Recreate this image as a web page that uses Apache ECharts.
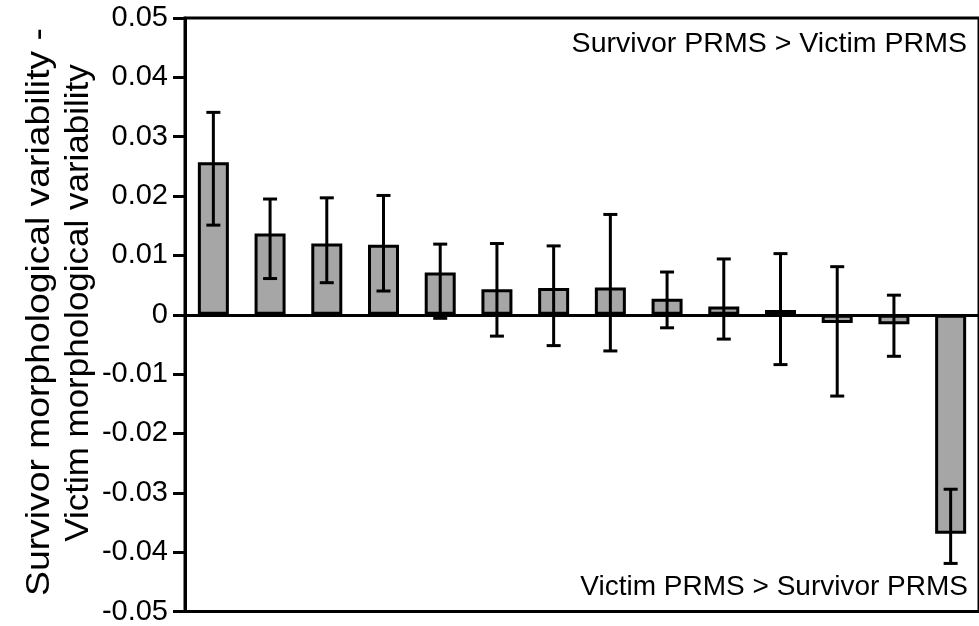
<!DOCTYPE html>
<html>
<head>
<meta charset="utf-8">
<script src="https://cdn.jsdelivr.net/npm/echarts@6/dist/echarts.min.js"></script>
<style>
html,body{margin:0;padding:0;background:#fff;}
#chart{width:979px;height:626px;}
</style>
</head>
<body>
<div id="chart"></div>
<script>
var categories = ['1','2','3','4','5','6','7','8','9','10','11','12','13','14'];
var values  = [0.0257, 0.0137, 0.0120, 0.0118, 0.0071, 0.0043, 0.0045, 0.0046, 0.0027, 0.0014, 0.0008, -0.0014, -0.0016, -0.0369];
var errHigh = [0.0341, 0.0195, 0.0197, 0.0201, 0.0119, 0.0120, 0.0116, 0.0169, 0.0072, 0.0094, 0.0103, 0.0081, 0.0033, -0.0294];
var errLow  = [0.0151, 0.0061, 0.0054, 0.0040, -0.0006, -0.0036, -0.0052, -0.0061, -0.0022, -0.0041, -0.0084, -0.0137, -0.0070, -0.0419];
var yTicks = [-0.05, -0.04, -0.03, -0.02, -0.01, 0, 0.01, 0.02, 0.03, 0.04, 0.05];
var titleLine1 = 'Survivor morphological variability -';
var titleLine2 = 'Victim morphological variability';
var noteTop = 'Survivor PRMS > Victim PRMS';
var noteBottom = 'Victim PRMS > Survivor PRMS';

var FONT = '"Liberation Sans", Arial, Helvetica, sans-serif';
var chart = echarts.init(document.getElementById('chart'));

var errData = categories.map(function (c, i) { return [i, errLow[i], errHigh[i]]; });

chart.setOption({
  animation: false,
  backgroundColor: '#fff',
  grid: {
    left: 185, top: 18, right: -7, bottom: 13,
    show: true, borderColor: '#000', borderWidth: 3, backgroundColor: 'transparent'
  },
  xAxis: {
    type: 'category',
    data: categories,
    axisLine: { show: true, onZero: true, lineStyle: { color: '#000', width: 3 } },
    axisTick: { show: false },
    axisLabel: { show: false },
    splitLine: { show: false }
  },
  yAxis: {
    type: 'value',
    min: yTicks[0],
    max: yTicks[yTicks.length - 1],
    interval: 0.01,
    axisLine: { show: true, onZero: false, lineStyle: { color: '#000', width: 3 } },
    axisTick: { show: true, inside: false, length: 12, lineStyle: { color: '#000', width: 3 } },
    axisLabel: {
      color: '#000', fontSize: 29, fontFamily: FONT, margin: 17,
      formatter: function (v) { return Math.abs(v) < 1e-9 ? '0' : v.toFixed(2); }
    },
    splitLine: { show: false }
  },
  graphic: [
    { type: 'text', x: 40, y: 312, rotation: Math.PI / 2, scaleX: 1.13,
      style: { text: titleLine1, font: '33px ' + FONT, fill: '#000', align: 'center', verticalAlign: 'middle' } },
    { type: 'text', x: 79, y: 303, rotation: Math.PI / 2, scaleX: 1.06,
      style: { text: titleLine2, font: '33px ' + FONT, fill: '#000', align: 'center', verticalAlign: 'middle' } },
    { type: 'text', x: 967, y: 44, scaleX: 1.02,
      style: { text: noteTop, font: '28px ' + FONT, fill: '#000', align: 'right', verticalAlign: 'middle' } },
    { type: 'text', x: 968, y: 587, scaleX: 1.0,
      style: { text: noteBottom, font: '28px ' + FONT, fill: '#000', align: 'right', verticalAlign: 'middle' } }
  ],
  series: [
    {
      type: 'bar',
      data: values,
      barWidth: 31,
      itemStyle: { color: '#a6a6a6', borderColor: '#000', borderWidth: 3 },
      z: 2
    },
    {
      type: 'custom',
      data: errData,
      z: 3,
      renderItem: function (params, api) {
        var i = api.value(0);
        var lo = api.coord([i, api.value(1)]);
        var hi = api.coord([i, api.value(2)]);
        var hw = 7;
        var st = { stroke: '#000', lineWidth: 3 };
        return {
          type: 'group',
          children: [
            { type: 'line', shape: { x1: hi[0], y1: hi[1], x2: lo[0], y2: lo[1] }, style: st },
            { type: 'line', shape: { x1: hi[0] - hw, y1: hi[1], x2: hi[0] + hw, y2: hi[1] }, style: st },
            { type: 'line', shape: { x1: lo[0] - hw, y1: lo[1], x2: lo[0] + hw, y2: lo[1] }, style: st }
          ]
        };
      }
    }
  ]
});
</script>
</body>
</html>
